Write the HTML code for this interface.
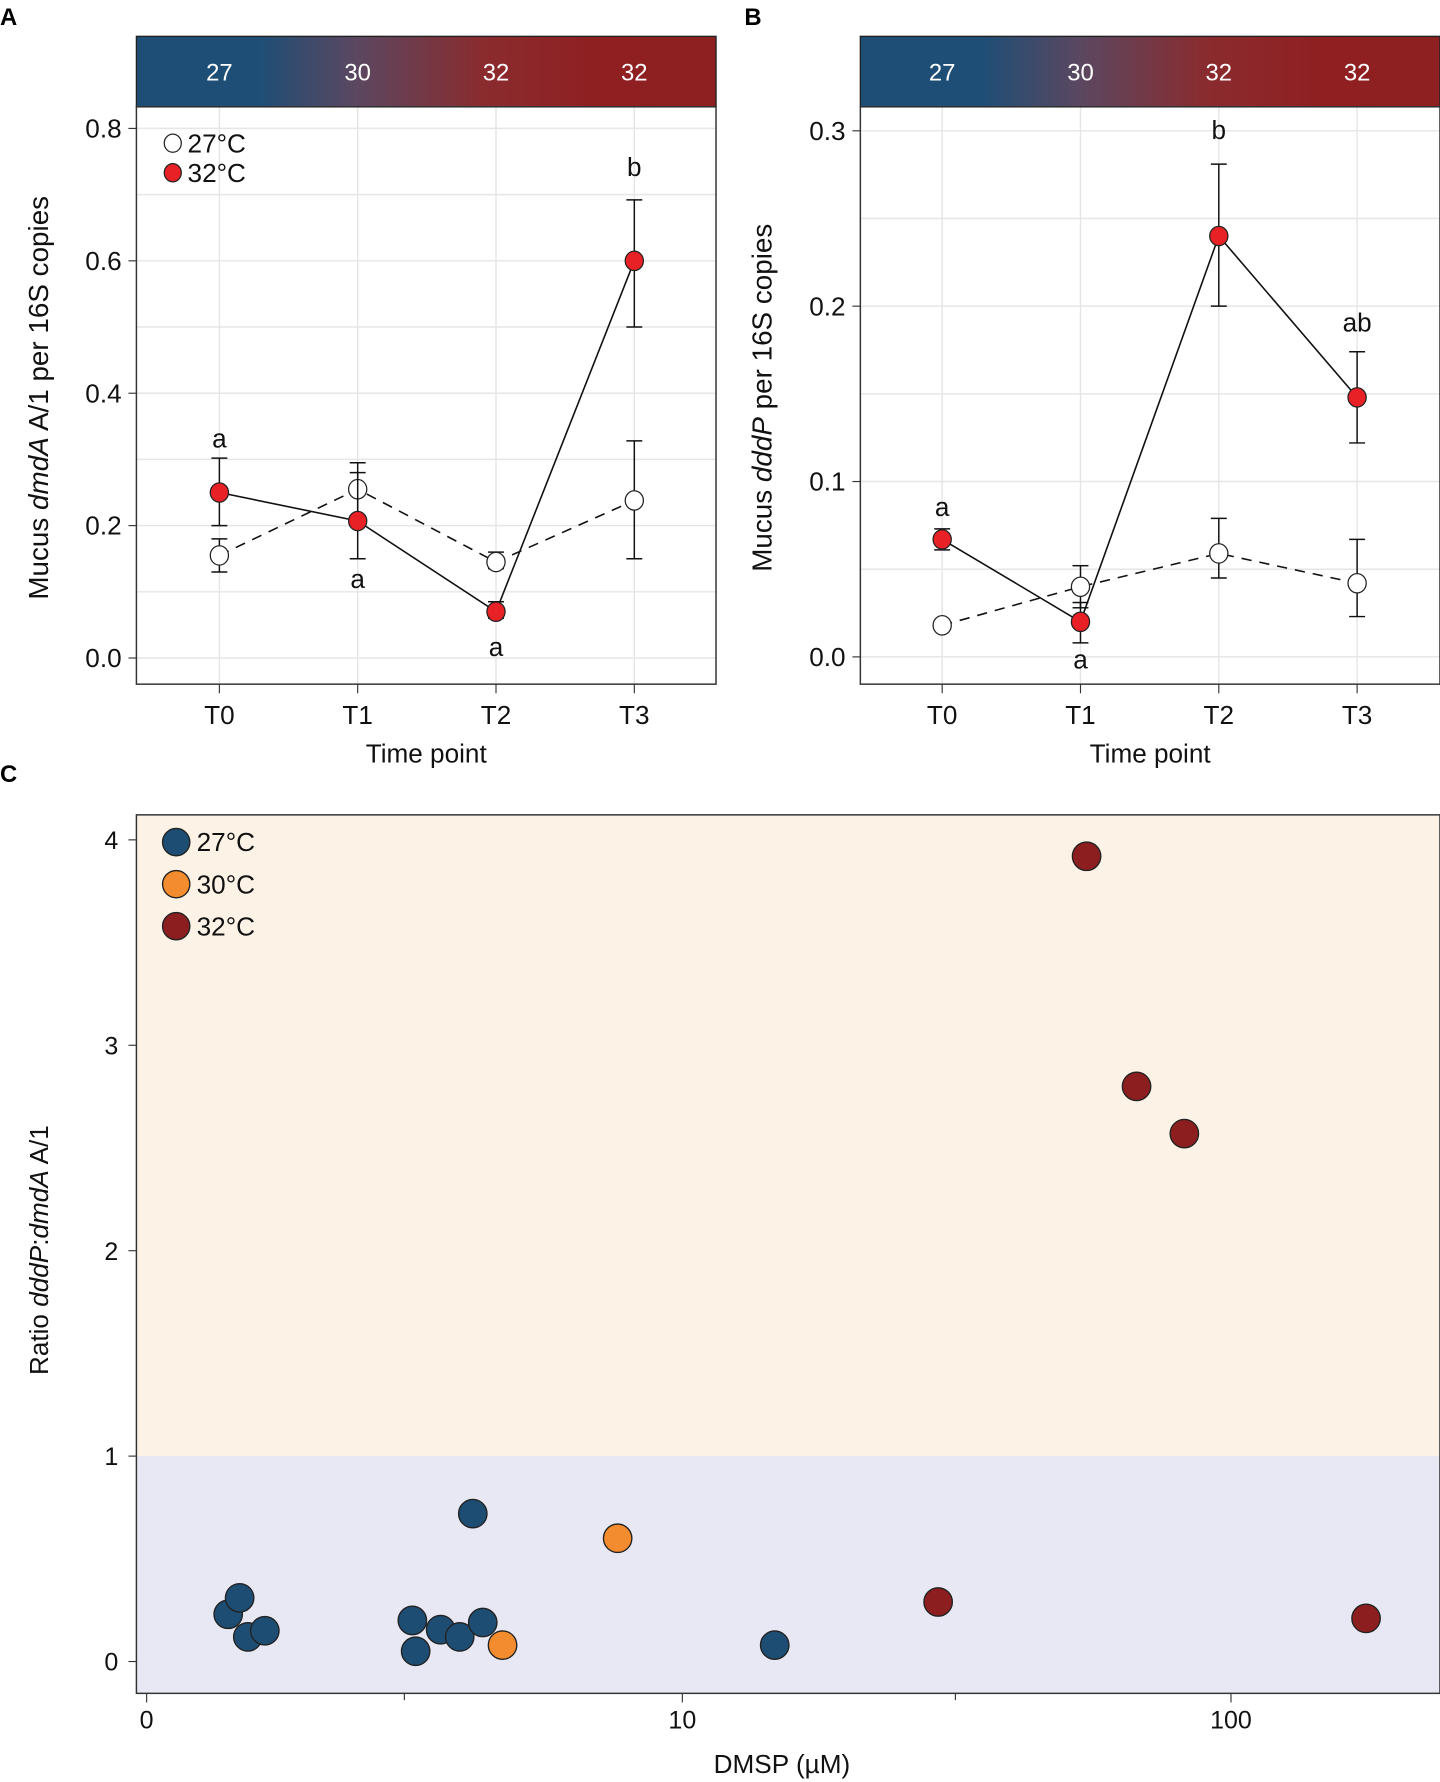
<!DOCTYPE html>
<html><head><meta charset="utf-8">
<style>
html,body{margin:0;padding:0;background:#fff;}
svg{display:block;font-family:"Liberation Sans",sans-serif;}
</style></head>
<body>
<svg id="fig" width="1440" height="1782" viewBox="0 0 1267 1568" xmlns="http://www.w3.org/2000/svg">
<defs>
<linearGradient id="tg" x1="0" x2="1" y1="0" y2="0">
<stop offset="0" stop-color="#1e4e76"/>
<stop offset="0.21" stop-color="#1e4e76"/>
<stop offset="0.38" stop-color="#5b4760"/>
<stop offset="0.6" stop-color="#8a2b2e"/>
<stop offset="0.8" stop-color="#8f1f21"/>
<stop offset="1" stop-color="#8e2022"/>
</linearGradient>
</defs>
<g id="root"></g>
</svg>
<script>
// ---- Panel A data ----
const timeCats = ["T0","T1","T2","T3"];
const tempLabels = ["27","30","32","32"];
const aLow = [0.155, 0.255, 0.145, 0.238];
const aLowLo = [0.13, 0.215, 0.135, 0.15];
const aLowHi = [0.18, 0.295, 0.16, 0.328];
const aHigh = [0.25, 0.207, 0.07, 0.6];
const aHighLo = [0.2, 0.15, 0.06, 0.5];
const aHighHi = [0.302, 0.28, 0.085, 0.692];
const aTicks = [0.0, 0.2, 0.4, 0.6, 0.8];
const aLetters = ["a","a","a","b"];
const aLetterVals = [0.33, 0.118, 0.015, 0.74];
// ---- Panel B data ----
const bLow = [0.018, 0.04, 0.059, 0.042];
const bLowLo = [0.018, 0.028, 0.045, 0.023];
const bLowHi = [0.018, 0.052, 0.079, 0.067];
const bHigh = [0.067, 0.02, 0.24, 0.148];
const bHighLo = [0.061, 0.008, 0.2, 0.122];
const bHighHi = [0.073, 0.031, 0.281, 0.174];
const bTicks = [0.0, 0.1, 0.2, 0.3];
const bLetters = ["a","a","b","ab"];
const bLetterVals = [0.085, -0.002, 0.3, 0.19];
// ---- Panel C data ----
const cTemps = ["27°C","30°C","32°C"];
const cDmsp27 = [0.75, 0.86, 0.94, 1.11, 2.92, 2.97, 3.37, 3.7, 3.94, 4.13, 14.8];
const cRatio27 = [0.23, 0.31, 0.12, 0.15, 0.2, 0.05, 0.155, 0.12, 0.72, 0.19, 0.08];
const cDmsp30 = [7.57, 4.53];
const cRatio30 = [0.6, 0.08];
const cDmsp32 = [54.7, 67.4, 82.3, 29.4, 175.8];
const cRatio32 = [3.92, 2.8, 2.57, 0.29, 0.21];
const cYTicks = [0, 1, 2, 3, 4];
const cXTicks = [0, 10, 100];
const cXMinor = [2.8, 31.6];

const NS = "http://www.w3.org/2000/svg";
const root = document.getElementById("root");
function mk(tag, attrs, parent, text){
  const e = document.createElementNS(NS, tag);
  for (const k in attrs) e.setAttribute(k, attrs[k]);
  if (text !== undefined) e.textContent = text;
  (parent || root).appendChild(e);
  return e;
}
function fmt(v, d){ return v.toFixed(d); }

function linePanel(cfg){
  const g = mk("g", {});
  
  
  const L = cfg.x0, R = cfg.x1, T = 94, B = 602;
  const xs = i => cfg.xStart + i * cfg.xStep;
  const ys = v => cfg.yZero - v * cfg.yScale;
  const pl = mk("text", {x: cfg.letterX, y: 22, "font-size": 21, "font-weight": "bold"}, g, cfg.letter);
  
  
  const hb = mk("rect", {x: L, y: 32, width: R - L, height: T - 32, fill: "url(#tg)", stroke: "#222", "stroke-width": 1.2}, g);
  
  
  tempLabels.forEach((t, i) => {
    const tl = mk("text", {x: xs(i), y: 71, "text-anchor": "middle", fill: "#fff", "font-size": 21}, g, t);
    
    
  });
  mk("rect", {x: L, y: T, width: R - L, height: B - T, fill: "#fff"}, g);
  for (let v = cfg.gridMin; v <= cfg.gridMax + 1e-9; v += cfg.gridStep){
    const gl = mk("line", {x1: L, x2: R, y1: ys(v), y2: ys(v), stroke: "#e6e6e6", "stroke-width": 1.3}, g);
    
    
  }
  timeCats.forEach((c, i) => {
    mk("line", {x1: xs(i), x2: xs(i), y1: T, y2: B, stroke: "#e6e6e6", "stroke-width": 1.3}, g);
  });
  cfg.ticks.forEach(v => {
    mk("line", {x1: L - 7, x2: L, y1: ys(v), y2: ys(v), stroke: "#333", "stroke-width": 1}, g);
    const tl = mk("text", {x: L - 13, y: ys(v) + 8, "text-anchor": "end", "font-size": 23, fill: "#111"}, g, fmt(v, 1));
    
    
  });
  timeCats.forEach((c, i) => {
    mk("line", {x1: xs(i), x2: xs(i), y1: B, y2: B + 8, stroke: "#333", "stroke-width": 1}, g);
    const tl = mk("text", {x: xs(i), y: B + 35, "text-anchor": "middle", "font-size": 23, fill: "#111"}, g, c);
    
    
  });
  mk("rect", {x: L, y: T, width: R - L, height: B - T, fill: "none", stroke: "#333", "stroke-width": 1.3}, g);
  const xt = mk("text", {x: (L + R) / 2, y: 671, "text-anchor": "middle", "font-size": 23, fill: "#111"}, g, "Time point");
  
  
  const yt = mk("text", {transform: `translate(${cfg.yTitleX},350) rotate(-90)`, "text-anchor": "middle", "font-size": cfg.yTitleSize, fill: "#111"}, g);
  
  
  cfg.yTitle.forEach(p => { mk("tspan", p[1] ? {"font-style": "italic"} : {}, yt, p[0]); });
  function series(vals, lo, hi, fill, dash, nm){
    const pts = vals.map((v, i) => xs(i) + "," + ys(v)).join(" ");
    const pl = mk("polyline", {points: pts, fill: "none", stroke: "#111", "stroke-width": 1.4, "stroke-dasharray": dash}, g);
    
    
    vals.forEach((v, i) => {
      const x = xs(i);
      mk("line", {x1: x, x2: x, y1: ys(lo[i]), y2: ys(hi[i]), stroke: "#111", "stroke-width": 1.3}, g);
      mk("line", {x1: x - 7, x2: x + 7, y1: ys(lo[i]), y2: ys(lo[i]), stroke: "#111", "stroke-width": 1.3}, g);
      mk("line", {x1: x - 7, x2: x + 7, y1: ys(hi[i]), y2: ys(hi[i]), stroke: "#111", "stroke-width": 1.3}, g);
    });
    vals.forEach((v, i) => {
      const c = mk("ellipse", {cx: xs(i), cy: ys(v), rx: 8, ry: 8.5, fill: fill, stroke: "#222", "stroke-width": 1.1}, g);
      
      
    });
  }
  series(cfg.low, cfg.lowLo, cfg.lowHi, "#fff", "9,7", "series-27c");
  series(cfg.high, cfg.highLo, cfg.highHi, "#e82127", "none", "series-32c");
  cfg.letters.forEach((l, i) => {
    const t = mk("text", {x: xs(i), y: ys(cfg.letterVals[i]) + 7, "text-anchor": "middle", "font-size": 23, fill: "#111"}, g, l);
    
    
  });
  if (cfg.legend){
    [["27°C","#fff"],["32°C","#e82127"]].forEach((e, k) => {
      const lg = mk("g", {}, g);
      
      
      mk("ellipse", {cx: 152, cy: 126 + k * 26, rx: 7.5, ry: 8, fill: e[1], stroke: "#222", "stroke-width": 1.1}, lg);
      mk("text", {x: 165, y: 134 + k * 26, "font-size": 23, fill: "#111"}, lg, e[0]);
    });
  }
}

linePanel({name: "panel-a", letter: "A", letterX: 0, x0: 120, x1: 630, xStart: 193, xStep: 121.7,
  yZero: 579, yScale: 582.5, ticks: aTicks, gridMin: 0, gridMax: 0.8, gridStep: 0.1,
  low: aLow, lowLo: aLowLo, lowHi: aLowHi, high: aHigh, highLo: aHighLo, highHi: aHighHi,
  letters: aLetters, letterVals: aLetterVals, legend: true, yTitleX: 42, yTitleSize: 24.5,
  yTitle: [["Mucus ", false], ["dmdA", true], [" A/1 per 16S copies", false]]});
linePanel({name: "panel-b", letter: "B", letterX: 655, x0: 757, x1: 1267, xStart: 829, xStep: 121.7,
  yZero: 578, yScale: 1543, ticks: bTicks, gridMin: 0, gridMax: 0.3, gridStep: 0.05,
  low: bLow, lowLo: bLowLo, lowHi: bLowHi, high: bHigh, highLo: bHighLo, highHi: bHighHi,
  letters: bLetters, letterVals: bLetterVals, legend: false, yTitleX: 679, yTitleSize: 24.5,
  yTitle: [["Mucus ", false], ["dddP", true], [" per 16S copies", false]]});

// ---- Panel C ----
(function(){
  const g = mk("g", {});
  
  
  const L = 120, R = 1267, T = 717, B = 1490;
  const xs = v => 129 + 210.7 * Math.asinh(v / 2.16);
  const ys = v => 1462 - v * 180.75;
  const pl = mk("text", {x: 0, y: 688, "font-size": 21, "font-weight": "bold"}, g, "C");
  
  
  const up = mk("rect", {x: L, y: T, width: R - L, height: ys(1) - T, fill: "#fcf3e6"}, g);
  
  
  const lo = mk("rect", {x: L, y: ys(1), width: R - L, height: B - ys(1), fill: "#e7e8f4"}, g);
  
  
  mk("rect", {x: L, y: T, width: R - L, height: B - T, fill: "none", stroke: "#333", "stroke-width": 1.3}, g);
  cYTicks.forEach(v => {
    mk("line", {x1: L - 7, x2: L, y1: ys(v), y2: ys(v), stroke: "#333", "stroke-width": 1}, g);
    const t = mk("text", {x: L - 16, y: ys(v) + 8, "text-anchor": "end", "font-size": 22, fill: "#111"}, g, String(v));
    
    
  });
  cXTicks.forEach(v => {
    mk("line", {x1: xs(v), x2: xs(v), y1: B, y2: B + 8, stroke: "#333", "stroke-width": 1}, g);
    const t = mk("text", {x: xs(v), y: B + 31, "text-anchor": "middle", "font-size": 22, fill: "#111"}, g, String(v));
    
    
  });
  cXMinor.forEach(v => {
    mk("line", {x1: xs(v), x2: xs(v), y1: B, y2: B + 6, stroke: "#333", "stroke-width": 1}, g);
  });
  const xt = mk("text", {x: 688, y: 1560, "text-anchor": "middle", "font-size": 23, fill: "#111"}, g, "DMSP (µM)");
  
  
  const yt = mk("text", {transform: "translate(42,1100) rotate(-90)", "text-anchor": "middle", "font-size": 23, fill: "#111"}, g);
  
  
  mk("tspan", {}, yt, "Ratio ");
  mk("tspan", {"font-style": "italic"}, yt, "dddP");
  mk("tspan", {}, yt, ":");
  mk("tspan", {"font-style": "italic"}, yt, "dmdA");
  mk("tspan", {}, yt, " A/1");
  const colors = ["#1d4d73", "#f28c2e", "#8d1e20"];
  const sets = [[cDmsp27, cRatio27], [cDmsp30, cRatio30], [cDmsp32, cRatio32]];
  sets.forEach((s, k) => {
    s[0].forEach((d, i) => {
      const c = mk("circle", {cx: xs(d), cy: ys(s[1][i]), r: 12.5, fill: colors[k], stroke: "#222", "stroke-width": 1.2}, g);
      
      
    });
  });
  cTemps.forEach((t, k) => {
    const lg = mk("g", {}, g);
    
    
    mk("circle", {cx: 155, cy: 741 + k * 37, r: 12, fill: colors[k], stroke: "#222", "stroke-width": 1.2}, lg);
    mk("text", {x: 173, y: 749 + k * 37, "font-size": 23, fill: "#111"}, lg, t);
  });
})();
</script>
</body></html>
